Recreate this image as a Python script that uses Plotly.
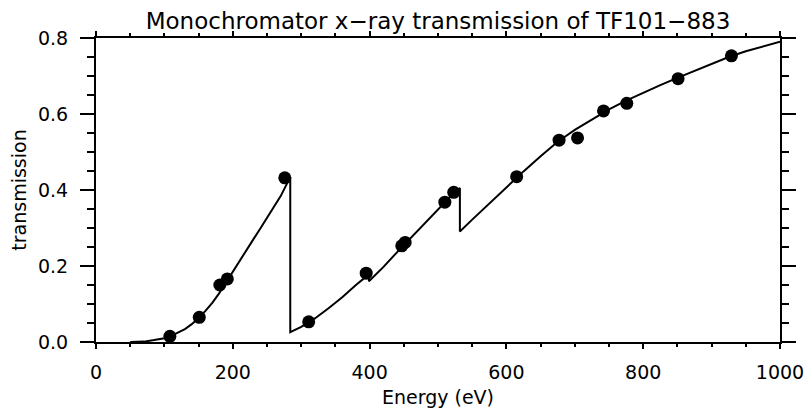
import plotly.graph_objects as go

# === DATA ===
# Model curve: edges at C (~284 eV), N (~400 eV) and O (~532 eV) appear as repeated energies
curve_energy = [50, 70, 85, 100, 110, 120, 130, 140, 150, 160, 170, 180, 190, 200,
                210, 220, 230, 240, 250, 260, 270, 284,
                284, 300, 320, 340, 360, 380, 399,
                399, 420, 440, 460, 480, 500, 520, 532,
                532, 550, 575, 600, 625, 650, 675, 700, 725, 750, 775, 800,
                825, 850, 875, 900, 925, 950, 975, 1000]
curve_trans = [0.000, 0.001, 0.005, 0.010, 0.016, 0.024, 0.034, 0.047, 0.063, 0.082, 0.103, 0.128, 0.157, 0.186,
               0.214, 0.242, 0.270, 0.298, 0.327, 0.355, 0.384, 0.434,
               0.026, 0.040, 0.062, 0.089, 0.118, 0.150, 0.178,
               0.160, 0.197, 0.236, 0.274, 0.312, 0.350, 0.386, 0.405,
               0.291, 0.322, 0.365, 0.408, 0.449, 0.489, 0.527, 0.558, 0.586, 0.612, 0.635, 0.656,
               0.676, 0.695, 0.714, 0.732, 0.750, 0.765, 0.778, 0.790]

# Measured points
point_energy = [108, 151, 181, 192, 276, 311, 395, 447, 452, 510, 523,
                615, 677, 704, 742, 776, 851, 929]
point_trans = [0.015, 0.065, 0.150, 0.166, 0.432, 0.053, 0.181, 0.253, 0.262, 0.368, 0.394,
               0.435, 0.531, 0.537, 0.608, 0.628, 0.693, 0.753]

FONT = "DejaVu Sans"

fig = go.Figure()
fig.add_trace(go.Scatter(
    x=curve_energy, y=curve_trans,
    mode="lines",
    line=dict(color="black", width=2),
    showlegend=False
))
fig.add_trace(go.Scatter(
    x=point_energy, y=point_trans,
    mode="markers",
    marker=dict(color="black", size=13),
    showlegend=False
))

fig.update_layout(
    width=809, height=412,
    margin=dict(l=96, r=29, t=38, b=70),
    paper_bgcolor="white", plot_bgcolor="white",
    font=dict(family=FONT, size=19, color="black"),
    title=dict(
        text="Monochromator x\u2212ray transmission of TF101\u2212883",
        x=0.5, xref="paper", xanchor="center",
        y=1 - 21 / 412, yref="container", yanchor="middle",
        font=dict(size=23)
    ),
    xaxis=dict(
        range=[0, 1000], dtick=200, tick0=0, automargin=False,
        showgrid=False, zeroline=False,
        showline=True, linecolor="black", linewidth=2, mirror="allticks",
        ticks="outside", ticklen=5, tickwidth=2, tickcolor="black",
        minor=dict(dtick=50, ticks="outside", ticklen=3, tickwidth=2, tickcolor="black"),
        ticklabelstandoff=7,
        title=dict(text="Energy (eV)", standoff=9, font=dict(size=19))
    ),
    yaxis=dict(
        range=[0, 0.8], dtick=0.2, tick0=0, tickformat=".1f", automargin=False,
        showgrid=False, zeroline=False,
        showline=True, linecolor="black", linewidth=2, mirror="allticks",
        ticks="outside", ticklen=14, tickwidth=2, tickcolor="black",
        minor=dict(dtick=0.05, ticks="outside", ticklen=7, tickwidth=2, tickcolor="black"),
        ticklabelstandoff=8,
        title=dict(text="transmission", standoff=6, font=dict(size=19))
    )
)

# drop the page's default body margin so the figure sits at the window's corner
fig.write_html("out.html", config={"displayModeBar": False},
               post_script="document.body.style.margin='0';")
